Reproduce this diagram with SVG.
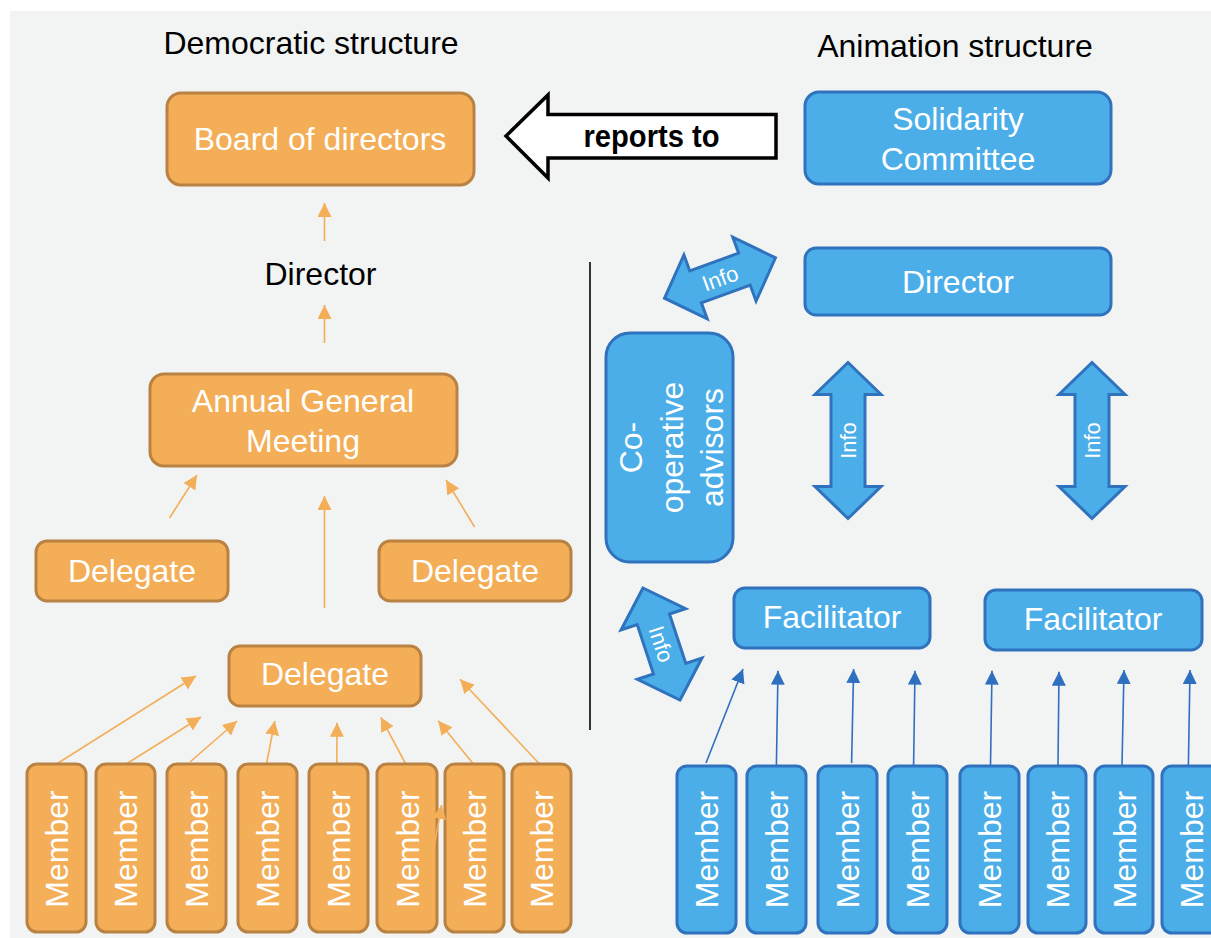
<svg xmlns="http://www.w3.org/2000/svg" width="1211" height="938" viewBox="0 0 1211 938">
<style>
text{font-family:"Liberation Sans",Arial,Helvetica,sans-serif;}
.t{font-size:32px;fill:#000;text-anchor:middle;}
.w{font-size:32px;fill:#fff;text-anchor:middle;}
.inf{font-size:22px;fill:#fff;text-anchor:middle;}
.ob{fill:#f3ae57;stroke:#b98242;stroke-width:3;}
.bb{fill:#4baee8;stroke:#2f72bd;stroke-width:3;}
.oc{stroke:#f3ae57;stroke-width:1.6;fill:none;marker-end:url(#ah-o);}
.bc{stroke:#2f6fbf;stroke-width:1.6;fill:none;marker-end:url(#ah-b);}
.ia{fill:#4baee8;stroke:#2f72bd;stroke-width:3;stroke-linejoin:miter;}
</style>
<defs>
<marker id="ah-o" markerUnits="userSpaceOnUse" markerWidth="15" markerHeight="15" refX="14" refY="7" orient="auto" viewBox="0 0 15 15"><path d="M0,0 L14,7 L0,14 Z" fill="#f3ae57"/></marker>
<marker id="ah-b" markerUnits="userSpaceOnUse" markerWidth="15" markerHeight="15" refX="14" refY="7" orient="auto" viewBox="0 0 15 15"><path d="M0,0 L14,7 L0,14 Z" fill="#2f6fbf"/></marker>
<path id="da" d="M-59,0 L-26,-34 L-26,-17 L26,-17 L26,-34 L59,0 L26,34 L26,17 L-26,17 L-26,34 Z"/>
<path id="va" d="M-78,0 L-46,-33 L-46,-17 L46,-17 L46,-33 L78,0 L46,33 L46,17 L-46,17 L-46,33 Z"/>
</defs>
<rect x="0" y="0" width="1211" height="938" fill="#ffffff"/>
<rect x="10" y="11" width="1201" height="927" fill="#f2f3f3"/>

<text class="t" x="311" y="54">Democratic structure</text>
<text class="t" x="955" y="57">Animation structure</text>

<line x1="590" y1="262" x2="590" y2="730" stroke="#333" stroke-width="2"/>

<g id="connectors">
<line class="oc" x1="324.5" y1="241" x2="324.5" y2="203"/>
<line class="oc" x1="324.5" y1="343" x2="324.5" y2="305"/>
<line class="oc" x1="169.5" y1="518" x2="197" y2="475"/>
<line class="oc" x1="324.5" y1="608" x2="324.5" y2="496"/>
<line class="oc" x1="474.6" y1="527" x2="446" y2="480"/>
<line class="oc" x1="56.6" y1="764" x2="196" y2="676"/>
<line class="oc" x1="126.3" y1="764" x2="201" y2="717"/>
<line class="oc" x1="190" y1="762" x2="237" y2="721"/>
<line class="oc" x1="266.7" y1="763" x2="274.8" y2="721"/>
<line class="oc" x1="336.8" y1="763" x2="337" y2="722.7"/>
<line class="oc" x1="405.7" y1="764" x2="380.8" y2="717.3"/>
<line class="oc" x1="473.4" y1="764" x2="438.2" y2="720.7"/>
<line class="oc" x1="539.6" y1="764" x2="460" y2="679.3"/>
<line class="bc" x1="706" y1="763" x2="743" y2="669"/>
<line class="bc" x1="776.4" y1="765" x2="778" y2="670.7"/>
<line class="bc" x1="851.6" y1="763" x2="853.6" y2="669"/>
<line class="bc" x1="913.6" y1="765" x2="915" y2="670.7"/>
<line class="bc" x1="990.5" y1="765" x2="992" y2="670.7"/>
<line class="bc" x1="1058" y1="765" x2="1059" y2="671.7"/>
<line class="bc" x1="1122" y1="765" x2="1124" y2="670"/>
<line class="bc" x1="1188.4" y1="765" x2="1190" y2="670"/>
<g id="reports-to">
<path d="M506,136 L548,95 L548,114.5 L776,114.5 L776,158 L548,158 L548,178 Z" fill="#fff" stroke="#000" stroke-width="3.5" stroke-linejoin="miter"/>
<text x="651.5" y="147" font-size="31" font-weight="bold" text-anchor="middle" fill="#000" textLength="136" lengthAdjust="spacingAndGlyphs">reports to</text>
</g>
<g id="info1"><use href="#da" class="ia" transform="translate(720,278) rotate(-20)"/><text class="inf" transform="translate(720,278) rotate(-20)" y="8">Info</text></g>
<g id="info2"><use href="#da" class="ia" transform="translate(661.5,644) rotate(71.7)"/><text class="inf" transform="translate(661.5,644) rotate(71.7)" y="8">Info</text></g>
<g id="info3"><use href="#va" class="ia" transform="translate(848,440.5) rotate(90)"/><text class="inf" transform="translate(848,440.5) rotate(-90)" y="8">Info</text></g>
<g id="info4"><use href="#va" class="ia" transform="translate(1092,440.5) rotate(90)"/><text class="inf" transform="translate(1092,440.5) rotate(-90)" y="8">Info</text></g>
</g>

<g id="board"><rect class="ob" x="167" y="93" width="307" height="92" rx="14"/><text class="w" x="320" y="150">Board of directors</text></g>
<text id="director-left" class="t" x="320.5" y="285">Director</text>
<g id="agm"><rect class="ob" x="150" y="374" width="307" height="92" rx="14"/><text class="w" x="303" y="411.7">Annual General</text><text class="w" x="303" y="451.7">Meeting</text></g>
<g id="delegate-left"><rect class="ob" x="36" y="541" width="192" height="60" rx="11"/><text class="w" x="132" y="582">Delegate</text></g>
<g id="delegate-right"><rect class="ob" x="379" y="541" width="192" height="60" rx="11"/><text class="w" x="475" y="582">Delegate</text></g>
<g id="delegate-mid"><rect class="ob" x="229" y="646" width="192" height="60" rx="11"/><text class="w" x="325" y="685">Delegate</text></g>

<g id="om1"><rect class="ob" x="27" y="764" width="59" height="168" rx="10"/><text class="w" transform="translate(56.5,849) rotate(-90)" y="11.5">Member</text></g>
<g id="om2"><rect class="ob" x="96" y="764" width="59" height="168" rx="10"/><text class="w" transform="translate(125.5,849) rotate(-90)" y="11.5">Member</text></g>
<g id="om3"><rect class="ob" x="167" y="764" width="59" height="168" rx="10"/><text class="w" transform="translate(196.5,849) rotate(-90)" y="11.5">Member</text></g>
<g id="om4"><rect class="ob" x="238" y="764" width="59" height="168" rx="10"/><text class="w" transform="translate(267.5,849) rotate(-90)" y="11.5">Member</text></g>
<g id="om5"><rect class="ob" x="309" y="764" width="59" height="168" rx="10"/><text class="w" transform="translate(338.5,849) rotate(-90)" y="11.5">Member</text></g>
<g id="om6"><rect class="ob" x="377" y="764" width="60" height="168" rx="10"/><text class="w" transform="translate(407,849) rotate(-90)" y="11.5">Member</text></g>
<g id="om7"><rect class="ob" x="445" y="764" width="59" height="168" rx="10"/><text class="w" transform="translate(474.5,849) rotate(-90)" y="11.5">Member</text></g>
<g id="om8"><rect class="ob" x="512" y="764" width="59" height="168" rx="10"/><text class="w" transform="translate(541.5,849) rotate(-90)" y="11.5">Member</text></g>
<line class="oc" x1="434" y1="847" x2="441.7" y2="805"/>

<g id="solidarity"><rect class="bb" x="805" y="92" width="306" height="92" rx="14"/><text class="w" x="958" y="130">Solidarity</text><text class="w" x="958" y="170">Committee</text></g>
<g id="director-right"><rect class="bb" x="805" y="248" width="306" height="67" rx="11"/><text class="w" x="958" y="293">Director</text></g>
<g id="coop"><rect class="bb" x="606" y="333" width="127" height="229" rx="24"/>
<g transform="translate(669.5,447.5) rotate(-90)"><text class="w" y="-27.5">Co-</text><text class="w" y="13">operative</text><text class="w" y="53.5">advisors</text></g></g>
<g id="fac1"><rect class="bb" x="734" y="588" width="196" height="60" rx="11"/><text class="w" x="832" y="628">Facilitator</text></g>
<g id="fac2"><rect class="bb" x="985" y="590" width="217" height="60" rx="11"/><text class="w" x="1093" y="630">Facilitator</text></g>

<g id="bm1"><rect class="bb" x="677" y="766" width="59" height="167" rx="10"/><text class="w" transform="translate(706.5,849.5) rotate(-90)" y="11.5">Member</text></g>
<g id="bm2"><rect class="bb" x="747" y="766" width="59" height="167" rx="10"/><text class="w" transform="translate(776.5,849.5) rotate(-90)" y="11.5">Member</text></g>
<g id="bm3"><rect class="bb" x="818" y="766" width="59" height="167" rx="10"/><text class="w" transform="translate(847.5,849.5) rotate(-90)" y="11.5">Member</text></g>
<g id="bm4"><rect class="bb" x="888" y="766" width="59" height="167" rx="10"/><text class="w" transform="translate(917.5,849.5) rotate(-90)" y="11.5">Member</text></g>
<g id="bm5"><rect class="bb" x="960" y="766" width="59" height="167" rx="10"/><text class="w" transform="translate(989.5,849.5) rotate(-90)" y="11.5">Member</text></g>
<g id="bm6"><rect class="bb" x="1028" y="766" width="58" height="167" rx="10"/><text class="w" transform="translate(1057,849.5) rotate(-90)" y="11.5">Member</text></g>
<g id="bm7"><rect class="bb" x="1095" y="766" width="58" height="167" rx="10"/><text class="w" transform="translate(1124,849.5) rotate(-90)" y="11.5">Member</text></g>
<g id="bm8"><rect class="bb" x="1162" y="766" width="59" height="167" rx="10"/><text class="w" transform="translate(1191.5,849.5) rotate(-90)" y="11.5">Member</text></g>
</svg>
